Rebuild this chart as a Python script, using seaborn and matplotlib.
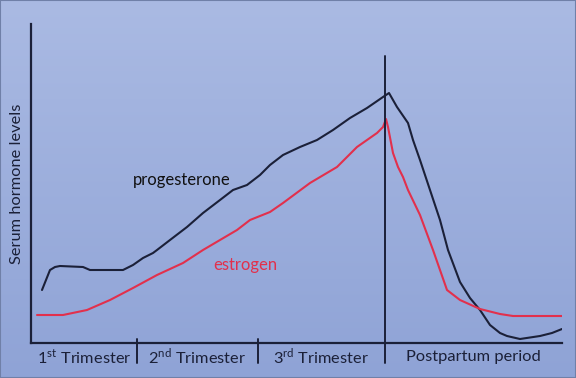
import numpy as np
import pandas as pd
import matplotlib
matplotlib.use('Agg')
import matplotlib.pyplot as plt
import seaborn as sns

# curves (arbitrary time / level units)
prog_x = [11, 15, 19, 24, 29, 52, 59, 92, 102, 112, 122, 126, 139, 156, 172, 189, 202, 216,
          229, 239, 252, 269, 286, 302, 319, 336, 352, 358, 366, 377, 382, 389, 399, 409, 417,
          429, 439, 449, 459, 469, 476, 489, 509, 521, 531]
prog_y = [53, 63, 73, 76, 77, 76, 73, 73, 78, 85, 90, 93, 103, 116, 130, 143, 153, 158,
          168, 178, 188, 196, 203, 213, 225, 235, 246, 250, 236, 220, 203, 183, 153, 123, 93,
          61, 45, 33, 18, 10, 7, 4, 7, 10, 14]
estr_x = [6, 32, 56, 79, 102, 126, 152, 172, 206, 219, 239, 252, 279, 306, 326, 346, 352,
          355, 357, 362, 367, 372, 377, 389, 402, 409, 416, 429, 449, 469, 482, 531]
estr_y = [28, 28, 33, 43, 55, 68, 80, 93, 113, 123, 131, 140, 160, 176, 196, 210, 216,
          224, 216, 190, 176, 166, 153, 128, 93, 73, 53, 43, 34, 29, 27, 27]

phase_edges = [0, 106, 227, 354, 531]
phase_labels = ['1$^{\\mathrm{st}}$ Trimester', '2$^{\\mathrm{nd}}$ Trimester',
                '3$^{\\mathrm{rd}}$ Trimester', 'Postpartum period']

sns.set_style('white')
plt.rcParams['font.family'] = ['Lato', 'DejaVu Sans']
plt.rcParams['mathtext.fontset'] = 'custom'
plt.rcParams['mathtext.rm'] = 'Lato'

navy = '#1b2038'
red = '#e2304c'

fig = plt.figure(figsize=(5.76, 3.78), dpi=100)

# gradient background
bg = fig.add_axes([0, 0, 1, 1], zorder=-1)
grad = np.linspace(0, 1, 256).reshape(-1, 1)
cmap = matplotlib.colors.LinearSegmentedColormap.from_list('bg', ['#aabae3', '#8fa3d6'])
bg.imshow(grad, aspect='auto', cmap=cmap, extent=[0, 1, 0, 1], origin='upper')
bg.add_patch(plt.Rectangle((0, 0), 1, 1, fill=False, edgecolor='#7080a8', lw=1.5,
                           transform=bg.transAxes))
bg.set_axis_off()

ax = fig.add_axes([31 / 576, 35 / 378, 531 / 576, 319 / 378])
ax.patch.set_alpha(0)

df_p = pd.DataFrame({'t': prog_x, 'level': prog_y})
df_e = pd.DataFrame({'t': estr_x, 'level': estr_y})
sns.lineplot(data=df_p, x='t', y='level', color=navy, lw=1.5, estimator=None, ax=ax)
sns.lineplot(data=df_e, x='t', y='level', color=red, lw=1.5, estimator=None, ax=ax)

ax.set_xlim(0, 531)
ax.set_ylim(0, 319)
ax.set_xticks([])
ax.set_yticks([])
ax.set_xlabel('')
ax.set_ylabel('Serum hormone levels', fontsize=11.8, color=navy, labelpad=5)
for side in ['top', 'right']:
    ax.spines[side].set_visible(False)
for side in ['left', 'bottom']:
    ax.spines[side].set_color(navy)
    ax.spines[side].set_linewidth(1.6)

# phase dividers
for xe in phase_edges[1:3]:
    ax.plot([xe, xe], [4, -20], color=navy, lw=1.4, clip_on=False)
ax.plot([phase_edges[3]] * 2, [287, -20], color=navy, lw=1.4, clip_on=False)

for i, lab in enumerate(phase_labels):
    xm = (phase_edges[i] + phase_edges[i + 1]) / 2
    ax.text(xm, -14, lab, ha='center', va='center', fontsize=11.8, color=navy)

ax.text(151, 163, 'progesterone', ha='center', va='center', fontsize=12, color='#111111')
ax.text(214, 78, 'estrogen', ha='center', va='center', fontsize=12, color=red)

fig.savefig('out.png', dpi=100)
